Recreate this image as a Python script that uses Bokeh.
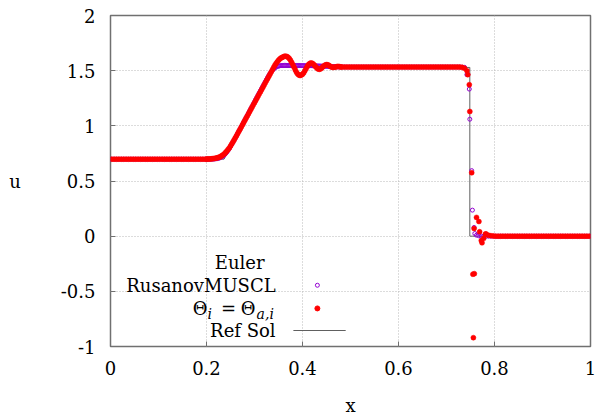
import numpy as np
from bokeh.plotting import figure
from bokeh.models import FixedTicker, Label
from bokeh.embed import file_html
from bokeh.resources import INLINE

FONT = "DejaVu Serif"
FS = "18px"

# ---------------- data ----------------
dx = 0.005  # cell width of the numerical grid
x_ticks = [0, 0.2, 0.4, 0.6, 0.8, 1]
x_tick_labels = ["0", "0.2", "0.4", "0.6", "0.8", "1"]
y_ticks = [-1, -0.5, 0, 0.5, 1, 1.5, 2]
y_tick_labels = ["-1", "-0.5", "0", "0.5", "1", "1.5", "2"]

# RusanovMUSCL (purple open circles), one value per cell centre
u_muscl = [
    0.698, 0.698, 0.698, 0.698, 0.698, 0.698, 0.698, 0.698, 0.698, 0.698,
    0.698, 0.698, 0.698, 0.698, 0.698, 0.698, 0.698, 0.698, 0.698, 0.698,
    0.698, 0.698, 0.698, 0.698, 0.698, 0.698, 0.698, 0.698, 0.698, 0.698,
    0.698, 0.698, 0.698, 0.698, 0.698, 0.698, 0.698, 0.698, 0.698, 0.698,
    0.698, 0.698, 0.699, 0.700, 0.703, 0.709, 0.720, 0.737, 0.762, 0.795,
    0.832, 0.871, 0.911, 0.952, 0.993, 1.034, 1.075, 1.116, 1.157, 1.198,
    1.239, 1.280, 1.320, 1.360, 1.400, 1.440, 1.475, 1.505, 1.525, 1.538,
    1.544, 1.547, 1.548, 1.548, 1.548, 1.548, 1.547, 1.547, 1.547, 1.546,
    1.546, 1.545, 1.545, 1.545, 1.544, 1.544, 1.543, 1.542, 1.541, 1.540,
    1.539, 1.538, 1.537, 1.536, 1.535, 1.534, 1.534, 1.533, 1.533, 1.533,
    1.533, 1.533, 1.533, 1.533, 1.533, 1.533, 1.533, 1.533, 1.533, 1.533,
    1.533, 1.533, 1.533, 1.533, 1.533, 1.533, 1.533, 1.533, 1.533, 1.533,
    1.533, 1.533, 1.533, 1.533, 1.533, 1.533, 1.533, 1.533, 1.533, 1.533,
    1.533, 1.533, 1.533, 1.533, 1.533, 1.533, 1.533, 1.533, 1.533, 1.533,
    1.533, 1.533, 1.533, 1.533, 1.533, 1.533, 1.532, 1.530, 1.464, 1.333,
    0.594, 0.079, 0.009, 0.003, 0.000, 0.000, 0.000, 0.000, 0.000, 0.000,
    0.000, 0.000, 0.000, 0.000, 0.000, 0.000, 0.000, 0.000, 0.000, 0.000,
    0.000, 0.000, 0.000, 0.000, 0.000, 0.000, 0.000, 0.000, 0.000, 0.000,
    0.000, 0.000, 0.000, 0.000, 0.000, 0.000, 0.000, 0.000, 0.000, 0.000,
    0.000, 0.000, 0.000, 0.000, 0.000, 0.000, 0.000, 0.000, 0.000, 0.000,
]
# RusanovMUSCL, extra points between x = 0.200 and 0.480 (finer sampling)
u_muscl_fine = [
    0.698, 0.698, 0.6985, 0.6995, 0.7015, 0.706, 0.714, 0.728, 0.749, 0.778,
    0.813, 0.851, 0.891, 0.931, 0.972, 1.013, 1.054, 1.095, 1.136, 1.177,
    1.218, 1.259, 1.300, 1.340, 1.380, 1.420, 1.458, 1.490, 1.515, 1.532,
    1.541, 1.546, 1.547, 1.548, 1.548, 1.548, 1.547, 1.547, 1.546, 1.546,
    1.546, 1.545, 1.545, 1.545, 1.544, 1.544, 1.543, 1.542, 1.541, 1.540,
    1.539, 1.538, 1.537, 1.536, 1.535, 1.534, 1.534,
]
# extra sub-cell points of RusanovMUSCL inside the shock
x_muscl_shock = [0.7444, 0.7486, 0.7540, 0.7590]
u_muscl_shock = [1.464, 1.060, 0.236, 0.024]

# Theta_i = Theta_{a,i} (red dots), one value per cell centre
u_theta = [
    0.698, 0.698, 0.698, 0.698, 0.698, 0.698, 0.698, 0.698, 0.698, 0.698,
    0.698, 0.698, 0.698, 0.698, 0.698, 0.698, 0.698, 0.698, 0.698, 0.698,
    0.698, 0.698, 0.698, 0.698, 0.698, 0.698, 0.698, 0.698, 0.698, 0.698,
    0.698, 0.698, 0.698, 0.698, 0.698, 0.698, 0.698, 0.698, 0.698, 0.698,
    0.699, 0.700, 0.702, 0.705, 0.710, 0.718, 0.730, 0.748, 0.772, 0.800,
    0.835, 0.872, 0.910, 0.950, 0.990, 1.030, 1.070, 1.110, 1.150, 1.190,
    1.230, 1.270, 1.310, 1.350, 1.390, 1.430, 1.470, 1.510, 1.550, 1.580,
    1.605, 1.620, 1.630, 1.628, 1.610, 1.575, 1.530, 1.485, 1.460, 1.460,
    1.480, 1.520, 1.555, 1.570, 1.560, 1.535, 1.515, 1.515, 1.535, 1.552,
    1.553, 1.540, 1.530, 1.532, 1.538, 1.536, 1.533, 1.533, 1.533, 1.533,
    1.533, 1.533, 1.533, 1.533, 1.533, 1.533, 1.533, 1.533, 1.533, 1.533,
    1.533, 1.533, 1.533, 1.533, 1.533, 1.533, 1.533, 1.533, 1.533, 1.533,
    1.533, 1.533, 1.533, 1.533, 1.533, 1.533, 1.533, 1.533, 1.533, 1.533,
    1.533, 1.533, 1.533, 1.533, 1.533, 1.533, 1.533, 1.533, 1.533, 1.533,
    1.533, 1.533, 1.533, 1.533, 1.533, 1.533, 1.530, 1.522, 1.500, 1.373,
    0.575, 0.070, 0.170, 0.133, -0.040, -0.020, 0.020, 0.008, 0.004, 0.002,
    0.000, 0.000, 0.000, 0.000, 0.000, 0.000, 0.000, 0.000, 0.000, 0.000,
    0.000, 0.000, 0.000, 0.000, 0.000, 0.000, 0.000, 0.000, 0.000, 0.000,
    0.000, 0.000, 0.000, 0.000, 0.000, 0.000, 0.000, 0.000, 0.000, 0.000,
    0.000, 0.000, 0.000, 0.000, 0.000, 0.000, 0.000, 0.000, 0.000, 0.000,
]
# Theta scheme, extra points between x = 0.200 and 0.480 (finer sampling)
u_theta_fine = [
    0.6985, 0.6995, 0.701, 0.7035, 0.7075, 0.714, 0.724, 0.739, 0.760, 0.786,
    0.817, 0.853, 0.891, 0.930, 0.970, 1.010, 1.050, 1.090, 1.130, 1.170,
    1.210, 1.250, 1.290, 1.330, 1.370, 1.410, 1.450, 1.490, 1.530, 1.566,
    1.594, 1.614, 1.626, 1.631, 1.621, 1.594, 1.553, 1.507, 1.470, 1.456,
    1.468, 1.500, 1.539, 1.565, 1.567, 1.548, 1.524, 1.512, 1.524, 1.545,
    1.555, 1.548, 1.534, 1.530, 1.535, 1.538, 1.534,
]
# extra sub-cell points of the Theta scheme inside the shock
x_theta_shock = [0.7444, 0.7486, 0.7550, 0.7580, 0.7560, 0.7690, 0.7740, 0.7810]
u_theta_shock = [1.464, 1.130, -0.345, -0.340, -0.920, 0.040, -0.060, 0.020]

# exact (reference) solution
x_ref = [0.0, 0.2366, 0.3370, 0.7486, 0.7486, 1.0]
u_ref = [0.698, 0.698, 1.5294, 1.5294, 0.0, 0.0]

x_cells = list(np.round((np.arange(len(u_theta)) + 0.5) * dx, 5))
x_fine = list(np.round(0.2 + np.arange(len(u_theta_fine)) * dx, 5))

# ---------------- figure ----------------
p = figure(width=596, height=418,
           x_range=(0, 1), y_range=(-1, 2),
           output_backend="svg", toolbar_location=None,
           min_border_left=110, min_border_right=6,
           min_border_top=15, min_border_bottom=72)
p.background_fill_color = "white"
p.border_fill_color = "white"
p.outline_line_color = "#707070"
p.outline_line_width = 1.5

PURPLE = "#9400d3"
RED = "#ff0000"
GRAYLINE = "#606060"

p.line(x_ref, u_ref, line_color=GRAYLINE, line_width=1)
for xs, us in ((x_cells, u_muscl), (x_fine, u_muscl_fine), (x_muscl_shock, u_muscl_shock)):
    p.scatter(xs, us, marker="circle", size=4, fill_color=None,
              line_color=PURPLE, line_width=1)
for xs, us in ((x_cells, u_theta), (x_fine, u_theta_fine), (x_theta_shock, u_theta_shock)):
    p.scatter(xs, us, marker="circle", size=5, fill_color=RED,
              line_color=RED, line_width=0.5)

# axes
p.xaxis.ticker = FixedTicker(ticks=x_ticks)
p.yaxis.ticker = FixedTicker(ticks=y_ticks)
p.xaxis.major_label_overrides = {t: l for t, l in zip(x_ticks, x_tick_labels)}
p.yaxis.major_label_overrides = {t: l for t, l in zip(y_ticks, y_tick_labels)}
for ax in (p.xaxis, p.yaxis):
    ax.axis_line_color = None
    ax.major_tick_in = 5
    ax.major_tick_out = 0
    ax.major_tick_line_color = "#707070"
    ax.minor_tick_line_color = None
    ax.major_label_text_font = FONT
    ax.major_label_text_font_size = FS
    ax.major_label_text_color = "black"
    ax.axis_label_text_font = FONT
    ax.axis_label_text_font_size = FS
    ax.axis_label_text_font_style = "normal"
    ax.axis_label_text_color = "black"
p.xaxis.major_label_standoff = 14
p.yaxis.major_label_standoff = 15
p.xaxis.axis_label = "x"
p.xaxis.axis_label_standoff = 17
p.yaxis.axis_label = "u"
p.yaxis.axis_label_orientation = "horizontal"
p.yaxis.axis_label_standoff = 37

p.grid.grid_line_color = "#b8b8b8"
p.grid.grid_line_dash = "1 2"
p.grid.grid_line_width = 1

# ---------------- key (gnuplot style: text right, sample left) ----------------
key_text_x = 0.344
key_sample_x = 0.431
key_line_x = [0.381, 0.49]
key_rows = [-0.236, -0.445, -0.655, -0.855]

main = dict(text_font=FONT, text_font_size=FS, text_baseline="middle",
            text_color="black")
sub = dict(text_font=FONT, text_font_size="14px", text_font_style="italic",
           text_baseline="middle", text_color="black")

p.add_layout(Label(x=0.269, y=key_rows[0], text="Euler", text_align="center", **main))
p.add_layout(Label(x=key_text_x, y=key_rows[1], text="RusanovMUSCL",
                   text_align="right", **main))
# Theta_i = Theta_{a,i}
p.add_layout(Label(x=key_text_x, y=key_rows[2], x_offset=-19, y_offset=-6,
                   text="a,i", text_align="left", **sub))
p.add_layout(Label(x=key_text_x, y=key_rows[2], x_offset=-20, text="Θ",
                   text_align="right", **main))
p.add_layout(Label(x=key_text_x, y=key_rows[2], x_offset=-47, text="=",
                   text_align="center", **main))
p.add_layout(Label(x=key_text_x, y=key_rows[2], x_offset=-68, y_offset=-6,
                   text="i", text_align="left", **sub))
p.add_layout(Label(x=key_text_x, y=key_rows[2], x_offset=-68, text="Θ",
                   text_align="right", **main))
p.add_layout(Label(x=key_text_x, y=key_rows[3], text="Ref Sol", text_align="right",
                   **main))

p.scatter([key_sample_x], [key_rows[1]], marker="circle", size=4, fill_color=None,
          line_color=PURPLE, line_width=1)
p.scatter([key_sample_x], [key_rows[2]], marker="circle", size=5, fill_color=RED,
          line_color=RED)
p.line(key_line_x, [key_rows[3], key_rows[3]], line_color=GRAYLINE, line_width=1)

open("out.html", "w").write(file_html(p, INLINE))
